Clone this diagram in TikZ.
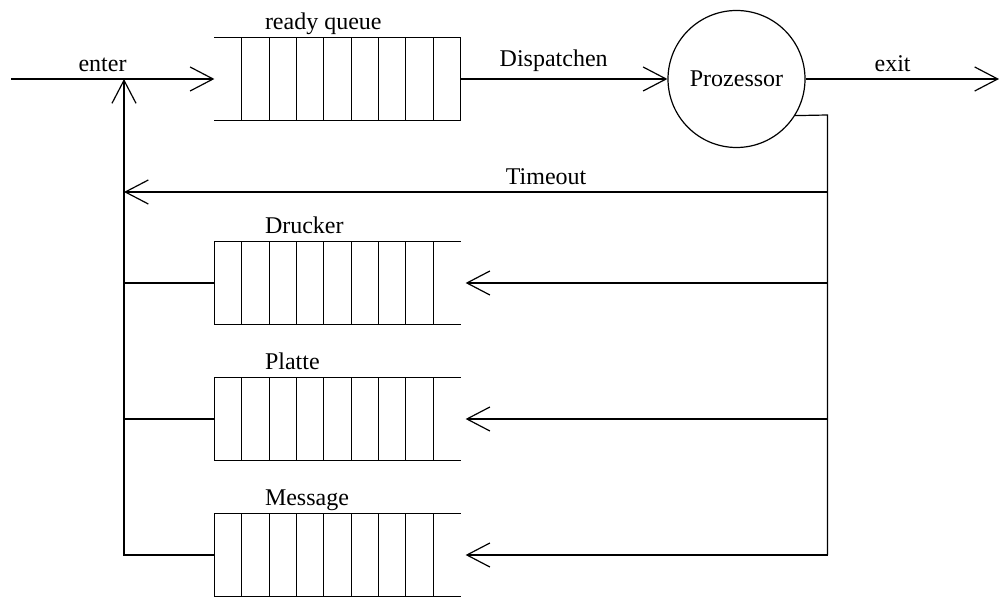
\documentclass[tikz,border=0pt]{standalone}
\usepackage{fontspec}
\setmainfont{Liberation Serif}
\newfontfamily\timesfont{Liberation Serif}
\usetikzlibrary{positioning, arrows.meta, calc}

\tikzset{
    queue/.style={minimum width=122.5pt, minimum height=41pt, inner sep=0pt, draw=none},
    flow/.style={-{Straight Barb[length=11.5pt, width=12pt]}},
    qname/.style={anchor=base west, inner sep=0pt},
}

\begin{document}
\begin{tikzpicture}[x=0.5pt, y=-0.5pt, line width=0.6pt,
        every node/.style={font=\timesfont\fontsize{12}{14}\selectfont}]

        \useasboundingbox (0,0) rectangle (999,597);

        % queues
        \node[queue] (ready) at (337.5,79) {};
        \node[queue] (drucker) at (337.5,283) {};
        \node[queue] (platte) at (337.5,419) {};
        \node[queue] (message) at (337.5,555) {};

        \draw (ready.north west) -- (ready.north east);
        \draw (ready.south west) -- (ready.south east);
        \foreach \k in {1,...,9}
            \draw ($(ready.south west)!\k/9!(ready.south east)$) -- ($(ready.north west)!\k/9!(ready.north east)$);

        \foreach \q in {drucker, platte, message} {
            \draw (\q.north west) -- (\q.north east);
            \draw (\q.south west) -- (\q.south east);
            \foreach \k in {0,...,8}
                \draw ($(\q.south west)!\k/9!(\q.south east)$) -- ($(\q.north west)!\k/9!(\q.north east)$);
        }

        \node[qname] (readyname) at ([xshift=25pt, yshift=4pt]ready.north west) {ready queue};
        \node[qname] (druckername) at ([xshift=25pt, yshift=4pt]drucker.north west) {Drucker};
        \node[qname] (plattename) at ([xshift=25pt, yshift=4pt]platte.north west) {Platte};
        \node[qname] (messagename) at ([xshift=25pt, yshift=4pt]message.north west) {Message};

        % processor
        \node[draw, circle, minimum size=68.5pt, inner sep=0pt] (cpu) at (736.5,79) {Prozessor};

        \coordinate (start) at (11,79);
        \coordinate (stop) at (999,79);
        \coordinate (back) at (124,79);
        \coordinate (bus) at (827.5,115);
        \coordinate (timeout) at (827.5,192);

        % connectors
        \draw[flow] (start) -- (ready.west) node[pos=0.45, above] {enter};
        \draw[flow] (ready.east) -- (cpu.west) node[pos=0.45, above] {Dispatchen};
        \draw[flow] (cpu.east) -- (stop) node[pos=0.45, above] {exit};

        \draw (cpu.-32) -- (bus) -- (bus |- message.east);
        \draw[flow] (timeout) -- (timeout -| back) node[pos=0.4, above] {Timeout};

        \foreach \q in {drucker, platte, message}
            \draw[flow] (bus |- \q.east) -- ([xshift=2.5pt]\q.east);

        \draw[flow] (message.west) -| (back);
        \draw (drucker.west) -- (drucker.west -| back);
        \draw (platte.west) -- (platte.west -| back);

    \end{tikzpicture}
\end{document}
